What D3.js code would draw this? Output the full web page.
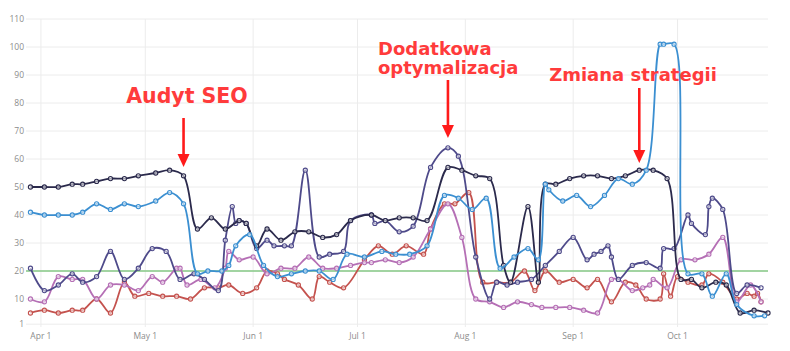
<!DOCTYPE html>
<html>
<head>
<meta charset="utf-8">
<script src="https://cdn.jsdelivr.net/npm/d3@7"></script>
<style>
  body { margin: 0; background: #fff; }
</style>
</head>
<body>
<div id="chart"></div>
<script>
// SEO positions over time, with three annotated interventions

const yTicks = [1, 10, 20, 30, 40, 50, 60, 70, 80, 90, 100, 110];
const monthTicks = ["04-01", "05-01", "06-01", "07-01", "08-01", "09-01", "10-01"];
const monthLabels = ["Apr 1", "May 1", "Jun 1", "Jul 1", "Aug 1", "Sep 1", "Oct 1"];
const targetLine = 20;

// each series: [date (MM-DD), position]
const navy = [
  ["03-29", 50], ["04-02", 50], ["04-06", 50], ["04-10", 51], ["04-13", 51], ["04-17", 52],
  ["04-21", 53], ["04-25", 53], ["04-29", 54], ["05-04", 55], ["05-08", 56], ["05-12", 54],
  ["05-16", 35], ["05-20", 39], ["05-24", 35], ["05-28", 38], ["05-30", 37], ["06-02", 29],
  ["06-05", 35], ["06-09", 31], ["06-13", 34], ["06-17", 34], ["06-21", 32], ["06-25", 33],
  ["06-29", 38], ["07-05", 40], ["07-09", 38], ["07-13", 39], ["07-17", 39], ["07-21", 38],
  ["07-27", 57], ["07-31", 56], ["08-04", 54], ["08-08", 53], ["08-12", 22], ["08-14", 16],
  ["08-19", 43], ["08-22", 16], ["08-24", 51], ["08-27", 51], ["08-31", 53], ["09-04", 54],
  ["09-08", 54], ["09-12", 53], ["09-16", 54], ["09-20", 56], ["09-24", 56], ["09-28", 53],
  ["10-02", 17], ["10-05", 17], ["10-08", 14], ["10-12", 16], ["10-15", 15], ["10-19", 5],
  ["10-23", 6], ["10-27", 5]
];

const indigo = [
  ["03-29", 21], ["04-02", 13], ["04-06", 15], ["04-10", 19], ["04-13", 16], ["04-17", 18],
  ["04-21", 27], ["04-25", 17], ["04-29", 21], ["05-03", 28], ["05-07", 27], ["05-11", 17],
  ["05-15", 19], ["05-18", 17], ["05-22", 13], ["05-24", 31], ["05-26", 43], ["05-27", 37],
  ["05-28", 38], ["05-30", 37], ["06-02", 28], ["06-05", 31], ["06-07", 29], ["06-10", 29],
  ["06-12", 29], ["06-16", 56], ["06-20", 25], ["06-23", 26], ["06-27", 27], ["06-29", 38],
  ["07-05", 40], ["07-06", 37], ["07-09", 38], ["07-13", 34], ["07-17", 36], ["07-22", 57],
  ["07-27", 64], ["07-30", 61], ["08-04", 25], ["08-08", 10], ["08-10", 16], ["08-13", 15],
  ["08-16", 16], ["08-20", 17], ["08-24", 22], ["08-28", 27], ["09-01", 32], ["09-05", 24],
  ["09-07", 26], ["09-09", 27], ["09-11", 29], ["09-12", 25], ["09-14", 17], ["09-18", 22],
  ["09-22", 23], ["09-26", 21], ["09-27", 28], ["09-30", 28], ["10-04", 40], ["10-05", 37],
  ["10-09", 33], ["10-10", 43], ["10-11", 46], ["10-14", 42], ["10-18", 12], ["10-21", 15],
  ["10-25", 14]
];

const blue = [
  ["03-29", 41], ["04-02", 40], ["04-06", 40], ["04-10", 40], ["04-13", 41], ["04-17", 44],
  ["04-21", 42], ["04-25", 44], ["04-29", 43], ["05-04", 45], ["05-08", 48], ["05-12", 44],
  ["05-16", 19], ["05-19", 20], ["05-23", 20], ["05-25", 22], ["05-27", 29], ["05-31", 33],
  ["06-04", 22], ["06-08", 18], ["06-12", 19], ["06-16", 20], ["06-20", 20], ["06-24", 17],
  ["06-28", 26], ["07-03", 25], ["07-08", 27], ["07-12", 26], ["07-16", 26], ["07-21", 29],
  ["07-26", 47], ["07-30", 46], ["08-03", 42], ["08-07", 46], ["08-11", 21], ["08-15", 25],
  ["08-19", 28], ["08-22", 24], ["08-24", 51], ["08-25", 49], ["08-29", 45], ["09-02", 47],
  ["09-06", 43], ["09-10", 47], ["09-14", 53], ["09-18", 51], ["09-22", 56], ["09-26", 101],
  ["09-27", 101], ["09-30", 101], ["10-04", 19], ["10-08", 19], ["10-11", 11], ["10-15", 19],
  ["10-18", 8], ["10-23", 4], ["10-26", 4]
];

const red = [
  ["03-29", 5], ["04-02", 6], ["04-06", 5], ["04-10", 6], ["04-13", 6], ["04-17", 10],
  ["04-21", 5], ["04-25", 16], ["04-28", 11], ["05-02", 12], ["05-06", 11], ["05-10", 11],
  ["05-14", 10], ["05-18", 14], ["05-22", 14], ["05-25", 15], ["05-29", 12], ["06-02", 14],
  ["06-05", 20], ["06-08", 19], ["06-10", 17], ["06-14", 15], ["06-18", 10], ["06-20", 18],
  ["06-23", 16], ["06-27", 14], ["07-03", 24], ["07-07", 29], ["07-11", 26], ["07-15", 29],
  ["07-20", 26], ["07-22", 35], ["07-26", 44], ["07-29", 44], ["08-02", 48], ["08-06", 16],
  ["08-10", 16], ["08-14", 16], ["08-18", 20], ["08-21", 13], ["08-24", 20], ["08-28", 16],
  ["09-01", 17], ["09-05", 14], ["09-08", 17], ["09-12", 9], ["09-16", 16], ["09-19", 15],
  ["09-22", 10], ["09-26", 10], ["09-27", 19], ["09-29", 11], ["10-01", 18], ["10-04", 16],
  ["10-08", 15], ["10-10", 19], ["10-14", 16], ["10-18", 10], ["10-21", 12], ["10-23", 11],
  ["10-24", 12], ["10-25", 9]
];

const pink = [
  ["03-29", 10], ["04-02", 9], ["04-06", 18], ["04-10", 17], ["04-13", 17], ["04-17", 10],
  ["04-21", 15], ["04-25", 15], ["04-29", 13], ["05-03", 18], ["05-06", 16], ["05-10", 21],
  ["05-11", 21], ["05-13", 15], ["05-17", 17], ["05-21", 14], ["05-24", 21], ["05-25", 27],
  ["05-28", 24], ["06-01", 25], ["06-05", 19], ["06-09", 21], ["06-13", 21], ["06-17", 25],
  ["06-21", 21], ["06-25", 21], ["06-29", 22], ["07-03", 23], ["07-05", 23], ["07-09", 24],
  ["07-13", 23], ["07-17", 25], ["07-22", 35], ["07-27", 44], ["07-31", 32], ["08-04", 10],
  ["08-08", 9], ["08-12", 7], ["08-16", 9], ["08-20", 8], ["08-23", 7], ["08-27", 7],
  ["08-31", 7], ["09-04", 6], ["09-08", 5], ["09-12", 17], ["09-14", 17], ["09-18", 13],
  ["09-21", 14], ["09-23", 15], ["09-24", 17], ["09-28", 14], ["10-02", 24], ["10-06", 24],
  ["10-10", 26], ["10-14", 32], ["10-18", 9], ["10-22", 15], ["10-25", 9]
];

const annotations = [
  { lines: ["Audyt SEO"], date: "05-12" },
  { lines: ["Dodatkowa", "optymalizacja"], date: "07-27" },
  { lines: ["Zmiana strategii"], date: "09-20" }
];

function draw() {
  const width = 790, height = 351;
  const plot = { left: 27, right: 768, top: 19, bottom: 327 };
  const parse = s => d3.utcParse("%Y-%m-%d")("2024-" + s);

  const svg = d3.select("#chart").append("svg")
    .attr("width", width)
    .attr("height", height)
    .style("font-family", "'Open Sans', sans-serif");

  const x = d3.scaleUtc()
    .domain([parse("03-28"), parse("10-27")])
    .range([plot.left, plot.right]);

  const y = d3.scaleLinear()
    .domain([0, 110])
    .range([plot.bottom, plot.top]);

  // grid
  svg.append("g")
    .selectAll("line")
    .data(yTicks)
    .join("line")
    .attr("x1", plot.left - 1).attr("x2", plot.right)
    .attr("y1", d => y(d)).attr("y2", d => y(d))
    .attr("stroke", "#ececec")
    .attr("stroke-width", 1);

  svg.append("g")
    .selectAll("line")
    .data(monthTicks)
    .join("line")
    .attr("x1", d => x(parse(d))).attr("x2", d => x(parse(d)))
    .attr("y1", plot.top).attr("y2", plot.bottom)
    .attr("stroke", "#ececec")
    .attr("stroke-width", 1);

  // tick labels
  svg.append("g")
    .selectAll("text")
    .data(yTicks)
    .join("text")
    .attr("x", 24)
    .attr("y", d => y(d))
    .attr("dy", "0.35em")
    .attr("text-anchor", "end")
    .style("font-size", "8.5px")
    .style("fill", "#8c8c8c")
    .text(d => d);

  svg.append("g")
    .selectAll("text")
    .data(monthTicks)
    .join("text")
    .attr("x", d => x(parse(d)))
    .attr("y", 339)
    .attr("text-anchor", "middle")
    .style("font-size", "8.5px")
    .style("fill", "#8c8c8c")
    .text((d, i) => monthLabels[i]);

  // target line
  svg.append("line")
    .attr("x1", plot.left - 1).attr("x2", plot.right)
    .attr("y1", y(targetLine)).attr("y2", y(targetLine))
    .attr("stroke", "#86c886")
    .attr("stroke-width", 1.6);

  const series = [
    { data: red, color: "#c4524e" },
    { data: pink, color: "#b56fb5" },
    { data: indigo, color: "#4e4a8a" },
    { data: navy, color: "#2b2a4c" },
    { data: blue, color: "#3b8fd1" }
  ];

  const line = d3.line()
    .x(d => x(parse(d[0])))
    .y(d => y(d[1]))
    .curve(d3.curveCatmullRom.alpha(0.5));

  series.forEach(s => {
    svg.append("path")
      .datum(s.data)
      .attr("fill", "none")
      .attr("stroke", s.color)
      .attr("stroke-width", 1.8)
      .attr("d", line);

    svg.append("g")
      .selectAll("circle")
      .data(s.data)
      .join("circle")
      .attr("cx", d => x(parse(d[0])))
      .attr("cy", d => y(d[1]))
      .attr("r", 2.1)
      .attr("fill", "#fff")
      .attr("fill-opacity", 0.55)
      .attr("stroke", s.color)
      .attr("stroke-width", 1.1);
  });

  // annotations: label + arrow pointing down
  const ann = [
    { a: annotations[0], textX: 187, anchor: "middle", base: 103, size: 20.5, top: 118, tip: 167 },
    { a: annotations[1], textX: 378, anchor: "start", base: 55, size: 18, top: 80, tip: 138 },
    { a: annotations[2], textX: 633, anchor: "middle", base: 81, size: 18, top: 88, tip: 163 }
  ];

  ann.forEach(o => {
    const ax = x(parse(o.a.date));
    o.a.lines.forEach((t, i) => {
      svg.append("text")
        .attr("x", o.textX)
        .attr("y", o.base + i * 19)
        .attr("text-anchor", o.anchor)
        .style("font-family", "'DejaVu Sans', Verdana, sans-serif")
        .style("font-weight", "bold")
        .style("font-size", o.size + "px")
        .style("fill", "#ff3b3b")
        .text(t);
    });

    svg.append("line")
      .attr("x1", ax).attr("x2", ax)
      .attr("y1", o.top).attr("y2", o.tip - 10)
      .attr("stroke", "#ff1a1a")
      .attr("stroke-width", 2.6);

    svg.append("path")
      .attr("d", `M${ax - 6},${o.tip - 13} L${ax + 6},${o.tip - 13} L${ax},${o.tip} Z`)
      .attr("fill", "#ff1a1a");
  });
}

draw();
</script>
</body>
</html>
